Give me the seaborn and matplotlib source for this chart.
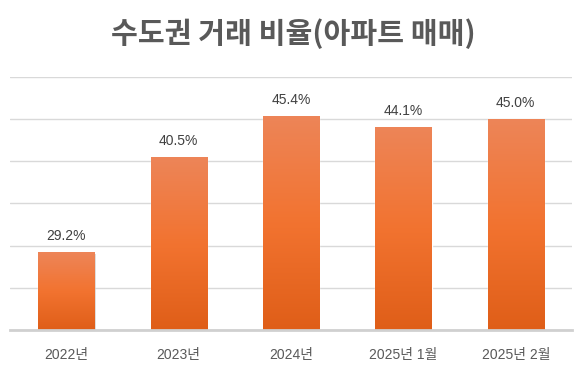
import matplotlib
matplotlib.use("Agg")
import matplotlib.pyplot as plt
import numpy as np
import pandas as pd
import seaborn as sns
from matplotlib.colors import LinearSegmentedColormap

categories = ["2022년", "2023년", "2024년", "2025년 1월", "2025년 2월"]
ratios = [29.2, 40.5, 45.4, 44.1, 45.0]
title = "수도권 거래 비율(아파트 매매)"

sns.set_theme(style="white")
plt.rcParams["font.family"] = ["Liberation Sans", "Noto Sans CJK KR", "DejaVu Sans"]

df = pd.DataFrame({"period": categories, "ratio": ratios})

W, H = 587, 373
fig = plt.figure(figsize=(W / 100, H / 100), dpi=100)
ax = fig.add_axes([10 / W, (H - 330) / H, 562 / W, 253 / H])

sns.barplot(data=df, x="period", y="ratio", ax=ax, color="#F07030", width=0.5,
            saturation=1, zorder=2)
ax.set_ylim(20, 50)
ax.set_xlim(-0.5, len(categories) - 0.5)
ax.set_yticks(np.arange(20, 51, 5))
ax.yaxis.grid(True, color="#D9D9D9", linewidth=1, zorder=0)
ax.set_axisbelow(True)
for s in ["top", "right", "left"]:
    ax.spines[s].set_visible(False)
ax.spines["bottom"].set_color("#D0D0D0")
ax.spines["bottom"].set_linewidth(2)
ax.set_yticklabels([])
ax.tick_params(axis="y", length=0)
ax.tick_params(axis="x", length=0, pad=13, labelsize=10, labelcolor="#595959")
ax.set_xlabel("")
ax.set_ylabel("")

# gradient fill on each bar
grad = LinearSegmentedColormap.from_list("g", ["#DF5E18", "#F27330", "#ED8558"])
img = np.linspace(0, 1, 256).reshape(-1, 1)
for bar in ax.patches:
    x0, y0 = bar.get_x(), bar.get_y()
    w, h = bar.get_width(), bar.get_height()
    # soft shadow
    ax.add_patch(plt.Rectangle((x0 + 0.012, y0), w, h - 0.15, color="#B0B0B0",
                               alpha=0.5, zorder=1.5, linewidth=0))
    im = ax.imshow(img, cmap=grad, origin="lower", aspect="auto",
                   extent=[x0, x0 + w, 20, y0 + h], zorder=2.5)
    im.set_clip_path(bar)
    ax.annotate(f"{y0 + h:.1f}%", (x0 + w / 2, y0 + h), xytext=(0, 6.5),
                textcoords="offset points", ha="center", va="bottom",
                fontsize=10, color="#404040")

fig.text(0.5, (H - 34) / H, title, ha="center", va="center", fontsize=21,
         fontweight="bold", color="#595959",
         family=["Noto Sans CJK KR", "DejaVu Sans"])

fig.savefig("out.png", dpi=100)
